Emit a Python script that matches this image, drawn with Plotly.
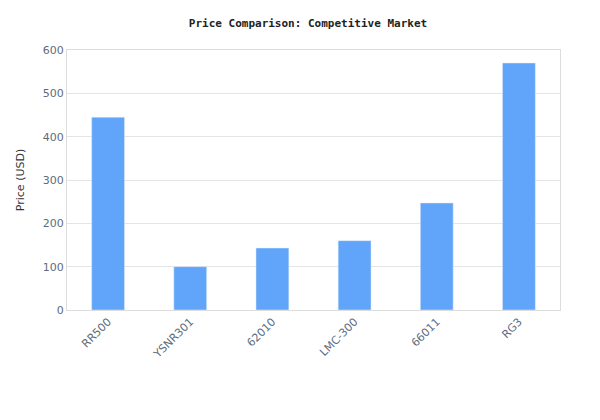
import plotly.graph_objects as go

categories = ["RR500", "YSNR301", "62010", "LMC-300", "66011", "RG3"]
prices = [445, 100, 143, 160, 247, 570]

fig = go.Figure(go.Bar(x=categories, y=prices, marker_color="#60a5fa", width=0.4))
fig.update_layout(
    width=600, height=420,
    margin=dict(l=52, r=48, t=42, b=118),
    paper_bgcolor="white", plot_bgcolor="white",
    title=dict(text="<b>Price Comparison: Competitive Market</b>", x=0.5, xanchor="center",
               y=0.965, yanchor="middle",
               font=dict(family="DejaVu Sans Mono", size=11, color="#222")),
    font=dict(family="DejaVu Sans", size=11, color="#5f6b7a"),
    showlegend=False,
)
fig.update_xaxes(tickangle=-45, showline=True, linecolor="#dddddd", mirror=True, ticks="")
fig.update_yaxes(range=[0, 600], dtick=100, gridcolor="#e5e5e5", showline=True, linecolor="#dddddd",
                 mirror=True, title=dict(text="Price (USD)", font=dict(size=11, color="#333")), zeroline=False)
fig.write_html("out.html")
